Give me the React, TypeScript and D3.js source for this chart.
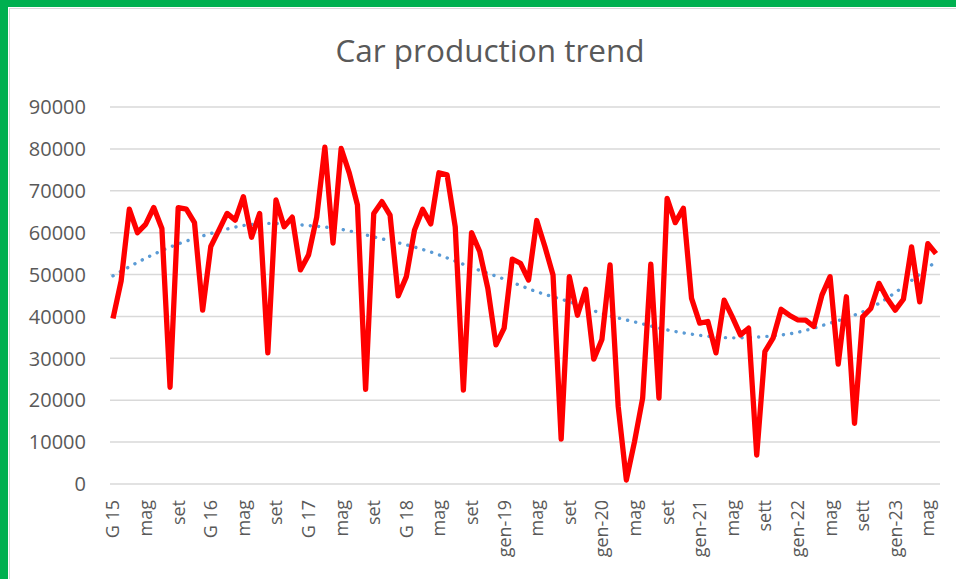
import { useEffect, useRef } from "react";
import * as d3 from "d3";

// monthly production, gen 2015 .. giu 2023
const production = [
  39500, 48500, 65600, 60000, 62000, 66000, 61000, 23100, 66000, 65600, 62400, 41500,
  56700, 60600, 64600, 63000, 68600, 58900, 64600, 31300, 67800, 61400, 63700, 51100,
  54700, 63700, 80400, 57500, 80100, 74200, 66600, 22600, 64600, 67400, 64200, 44900,
  49500, 60600, 65600, 62100, 74300, 73800, 61400, 22400, 60000, 55500, 46700, 33200,
  37200, 53700, 52700, 48700, 62900, 56700, 49900, 10700, 49500, 40300, 46500, 29800,
  34500, 52300, 18500, 950, 10100, 20500, 52500, 20500, 68200, 62400, 65800, 44300,
  38400, 38800, 31300, 43900, 39900, 35600, 37200, 6900, 31600, 34800, 41700, 40300,
  39200, 39100, 37600, 45100, 49500, 28600, 44700, 14500, 39900, 41900, 47900, 44300,
  41500, 44100, 56600, 43500, 57400, 55000,
];

// dotted trend line, read every 4 months
const trendIdx = [0, 4, 8, 12, 16, 20, 24, 28, 32, 36, 40, 44, 48, 52, 56, 60, 64, 68, 72, 76, 80, 84, 88, 92, 96, 100, 101];
const trendVals = [
  49700, 53900, 57300, 59800, 61700, 62200, 61700, 60800, 59000, 57100, 54700, 51700, 48900,
  45900, 43500, 40700, 38700, 36800, 35500, 34900, 35200, 36200, 38400, 41100, 45700, 51600, 53100,
];

const tickLabels = [
  "G 15", "mag", "set", "G 16", "mag", "set", "G 17", "mag", "set", "G 18", "mag", "set",
  "gen-19", "mag", "set", "gen-20", "mag", "set", "gen-21", "mag", "sett", "gen-22", "mag", "sett",
  "gen-23", "mag",
];

const yTicks = [0, 10000, 20000, 30000, 40000, 50000, 60000, 70000, 80000, 90000];

const W = 956, H = 579;
const FONT = "'Open Sans', 'Noto Sans', sans-serif";
const GREY = "#595959";

export default function App() {
  const svgRef = useRef<SVGSVGElement | null>(null);

  useEffect(() => {
    if (!svgRef.current) return;
    const svg = d3.select(svgRef.current);
    svg.selectAll("*").remove();

    svg.append("rect").attr("width", W).attr("height", H).attr("fill", "#fff");

    const x = d3.scaleLinear().domain([0, production.length - 1]).range([113, 936]);
    const y = d3.scaleLinear().domain([0, 90000]).range([484, 107]);

    // grid + y labels
    yTicks.forEach(v => {
      svg.append("line")
        .attr("x1", 110).attr("x2", 940)
        .attr("y1", y(v)).attr("y2", y(v))
        .attr("stroke", "#D9D9D9").attr("stroke-width", 1.5);
      svg.append("text")
        .attr("x", 86).attr("y", y(v)).attr("dy", "0.36em")
        .attr("text-anchor", "end")
        .attr("font-family", FONT).attr("font-size", 20).attr("fill", GREY)
        .text(v);
    });

    // category labels every 4 months
    tickLabels.forEach((t, k) => {
      const tx = x(k * 4);
      svg.append("text")
        .attr("transform", `translate(${tx},500) rotate(-90)`)
        .attr("dy", "0.36em")
        .attr("text-anchor", "end")
        .attr("font-family", FONT).attr("font-size", 18).attr("fill", GREY)
        .text(t);
    });

    // trend (dotted)
    const trendLine = d3.line<number>()
      .x((_, i) => x(trendIdx[i]))
      .y(d => y(d))
      .curve(d3.curveNatural);
    svg.append("path").datum(trendVals)
      .attr("fill", "none")
      .attr("stroke", "#5B9BD5")
      .attr("stroke-width", 3.4)
      .attr("stroke-linecap", "round")
      .attr("stroke-dasharray", "0.1 8.2")
      .attr("d", trendLine);

    // production line
    const line = d3.line<number>()
      .x((_, i) => x(i))
      .y(d => y(d));
    svg.append("path").datum(production)
      .attr("fill", "none")
      .attr("stroke", "#FF0000")
      .attr("stroke-width", 5.3)
      .attr("stroke-linejoin", "round")
      .attr("d", line);

    // title
    svg.append("text")
      .attr("x", 490).attr("y", 62)
      .attr("text-anchor", "middle")
      .attr("font-family", FONT).attr("font-size", 31.5).attr("fill", GREY)
      .text("Car production trend");

    // frame
    svg.append("line").attr("x1", 9).attr("x2", W).attr("y1", 8.5).attr("y2", 8.5)
      .attr("stroke", "#D9D9D9").attr("stroke-width", 1);
    svg.append("line").attr("x1", 9.5).attr("x2", 9.5).attr("y1", 8).attr("y2", H)
      .attr("stroke", "#D9D9D9").attr("stroke-width", 1);
    svg.append("rect").attr("x", 0).attr("y", 0).attr("width", W).attr("height", 7).attr("fill", "#00B050");
    svg.append("rect").attr("x", 0).attr("y", 0).attr("width", 8).attr("height", H).attr("fill", "#00B050");
  }, []);

  return (
    <svg ref={svgRef} width={W} height={H}
      style={{ position: "absolute", left: 0, top: 0, display: "block" }} />
  );
}
